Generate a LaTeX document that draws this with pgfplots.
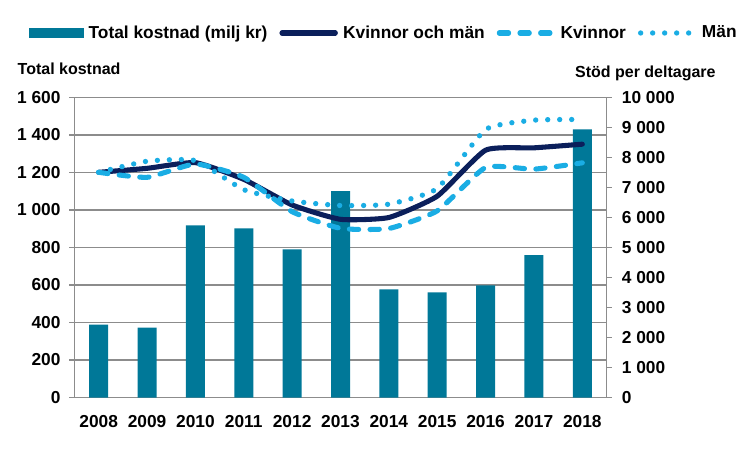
\documentclass[border=0pt]{standalone}
\usepackage{pgfplots}
\pgfplotsset{compat=1.18}
\usepackage{fontspec}
\setmainfont{Liberation Sans}
\definecolor{barc}{HTML}{007898}
\definecolor{navy}{HTML}{0B1F5B}
\definecolor{lblue}{HTML}{1AADE4}
\definecolor{gridc}{HTML}{8C8C8C}
\pgfplotstableread{
x tot all kv man
0 388 7506 7506 7506
1 372 7639 7339 7875
2 918 7828 7783 7894
3 902 7272 7339 6928
4 790 6417 6194 6550
5 1100 5939 5639 6400
6 576 6000 5633 6444
7 560 6711 6222 6967
8 598 8244 7667 8933
9 759 8322 7611 9244
10 1430 8444 7822 9267
}\datatable
\pgfplotsset{
  common/.style={
    scale only axis, width=399pt, height=225pt,
    xmin=-0.5, xmax=10.5,
    axis line style={gridc, line width=0.9pt},
    tick style={gridc, line width=0.9pt},
    tick align=outside, major tick length=4pt,
    ticklabel style={font=\fontsize{13}{15}\selectfont\bfseries},
    /pgf/number format/assume math mode=true,
    /pgf/number format/1000 sep={\ },
    scaled ticks=false,
  }
}
\begin{document}
\begin{tikzpicture}
\path[use as bounding box] (0,0) rectangle (562.5pt,337.5pt);
\begin{axis}[common,
  at={(55.875pt,39.375pt)}, anchor=south west,
  ymin=0, ymax=1600, ytick distance=200,
  axis y line*=left, axis x line*=bottom,
  ymajorgrids, grid style={gridc, line width=0.9pt},
  xtick={0,...,10}, xticklabels={2008,2009,2010,2011,2012,2013,2014,2015,2016,2017,2018},
  xtick style={draw=none},
  xticklabel style={yshift=-6pt},
  extra x ticks={-0.5,0.5,...,10.5}, extra x tick labels={},
  extra x tick style={grid=none, tick style={gridc, line width=0.9pt, draw=gridc}},
  yticklabel style={xshift=-3pt},
  clip=false,
]
\addplot[ybar, bar width=14.25pt, fill=barc, draw=none] table[x=x, y=tot] {\datatable};
\node[font=\fontsize{12}{14}\selectfont\bfseries] at (rel axis cs:-0.0102,1.097) {Total kostnad};
\node[font=\fontsize{12}{14}\selectfont\bfseries] at (rel axis cs:1.073,1.08) {Stöd per deltagare};
\end{axis}
\begin{axis}[common,
  at={(55.875pt,39.375pt)}, anchor=south west,
  ymin=0, ymax=10000, ytick distance=1000,
  axis y line*=right, axis x line=none,
  xtick=\empty,
  yticklabel style={xshift=4pt},
  legend style={at={(0.585,1.215)}, anchor=center, draw=none, fill=none,
    legend columns=-1, font=\fontsize{13}{15}\selectfont\bfseries,
    /tikz/every even column/.append style={column sep=5pt},
    nodes={inner xsep=4pt}},
  legend image code/.code={\draw[#1] (0pt,0pt) -- (40pt,0pt);},
  clip=false,
]
\addlegendimage{legend image code/.code={\fill[barc] (0pt,-3.2pt) rectangle (40pt,3.2pt);}}
\addlegendentry{Total kostnad (milj kr)}
\addplot[navy, line width=3.8pt, smooth, tension=0.3, line cap=round] table[x=x, y=all] {\datatable};
\addlegendentry{Kvinnor och män}
\addplot[lblue, line width=3.8pt, smooth, tension=0.3, line cap=round, dash pattern=on 7pt off 8.5pt] table[x=x, y=kv] {\datatable};
\addlegendentry{Kvinnor}
\addplot[lblue, line width=4pt, smooth, tension=0.3, line cap=round, dash pattern=on 0pt off 9pt] table[x=x, y=man] {\datatable};
\addlegendentry{Män}
\end{axis}
\end{tikzpicture}
\end{document}
